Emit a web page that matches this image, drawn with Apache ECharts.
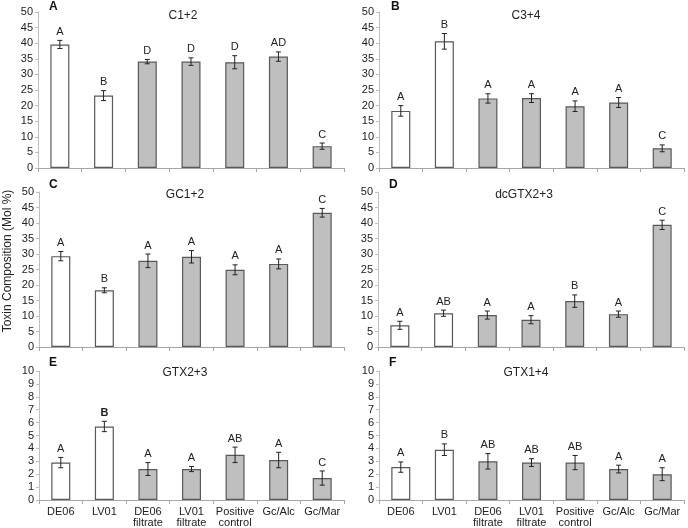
<!DOCTYPE html>
<html>
<head>
<meta charset="utf-8">
<script src="https://cdn.jsdelivr.net/npm/echarts@6/dist/echarts.min.js"></script>
<style>html,body{margin:0;padding:0;background:#fff;}#main{width:688px;height:528px;}</style>
</head>
<body>
<div id="main"></div>
<script>
const categories = ['DE06', 'LV01', 'DE06\nfiltrate', 'LV01\nfiltrate', 'Positive\ncontrol', 'Gc/Alc', 'Gc/Mar'];
const panelLetters = ['A', 'B', 'C', 'D', 'E', 'F'];
const panelTitles = ['C1+2', 'C3+4', 'GC1+2', 'dcGTX2+3', 'GTX2+3', 'GTX1+4'];

const c12Values = [39.6, 23.2, 34.1, 34.1, 33.9, 35.7, 7.0];
const c12Errors = [1.3, 1.6, 0.7, 1.2, 2.1, 1.5, 1.0];
const c12Letters = ['A', 'B', 'D', 'D', 'D', 'AD', 'C'];

const c34Values = [18.3, 40.6, 22.3, 22.4, 19.8, 21.0, 6.3];
const c34Errors = [1.7, 2.5, 1.5, 1.4, 1.7, 1.6, 1.1];
const c34Letters = ['A', 'B', 'A', 'A', 'A', 'A', 'C'];

const gc12Values = [29.3, 18.3, 27.8, 29.1, 24.9, 26.8, 43.3];
const gc12Errors = [1.5, 0.8, 2.2, 2.0, 1.6, 1.6, 1.4];
const gc12Letters = ['A', 'B', 'A', 'A', 'A', 'A', 'C'];

const dcgtx23Values = [7.0, 10.9, 10.3, 8.8, 14.8, 10.6, 39.4];
const dcgtx23Errors = [1.3, 1.0, 1.3, 1.3, 2.0, 1.0, 1.5];
const dcgtx23Letters = ['A', 'AB', 'A', 'A', 'B', 'A', 'C'];

const gtx23Values = [2.9, 5.7, 2.4, 2.4, 3.5, 3.1, 1.7];
const gtx23Errors = [0.4, 0.4, 0.5, 0.2, 0.6, 0.6, 0.55];
const gtx23Letters = ['A', 'B', 'A', 'A', 'AB', 'A', 'C'];

const gtx14Values = [2.55, 3.9, 3.0, 2.9, 2.9, 2.4, 2.0];
const gtx14Errors = [0.4, 0.45, 0.6, 0.3, 0.55, 0.3, 0.5];
const gtx14Letters = ['A', 'B', 'AB', 'AB', 'AB', 'A', 'A'];

const yMaxes = [50, 50, 50, 50, 10, 10];
const yIntervals = [5, 5, 5, 5, 1, 1];

const panels = [
  {v: c12Values, e: c12Errors, l: c12Letters},
  {v: c34Values, e: c34Errors, l: c34Letters},
  {v: gc12Values, e: gc12Errors, l: gc12Letters},
  {v: dcgtx23Values, e: dcgtx23Errors, l: dcgtx23Letters},
  {v: gtx23Values, e: gtx23Errors, l: gtx23Letters},
  {v: gtx14Values, e: gtx14Errors, l: gtx14Letters}
];

const FONT = 'Liberation Sans, Arial, sans-serif';
const grids = [
  {left: 38, top: 12, width: 306, height: 156},
  {left: 379, top: 12, width: 305, height: 156},
  {left: 39, top: 192, width: 305, height: 155},
  {left: 378, top: 192, width: 306, height: 155},
  {left: 39, top: 371, width: 305, height: 132},
  {left: 379, top: 371, width: 305, height: 132}
];
const letterPos = [[49, 1], [391, 1], [49, 179], [389, 179], [49, 357], [389, 357]];
const titlePos = [[183, 10], [526, 10], [185, 189], [524, 189], [185, 367], [526, 367]];

const xAxes = [], yAxes = [], series = [], titles = [];
panels.forEach((p, i) => {
  const showLabels = i >= 4;
  xAxes.push({
    type: 'category', gridIndex: i, data: categories,
    axisLine: {lineStyle: {color: '#a6a6a6', width: 1}},
    axisTick: {show: true, length: 4, lineStyle: {color: '#a6a6a6'}},
    axisLabel: {show: showLabels, interval: 0, fontSize: 11, lineHeight: 11, color: '#222', fontFamily: FONT, margin: 6},
    splitLine: {show: false}
  });
  yAxes.push({
    type: 'value', gridIndex: i, min: 0, max: yMaxes[i], interval: yIntervals[i],
    axisLine: {show: true, lineStyle: {color: '#bfbfbf'}},
    axisTick: {show: true, length: 3, lineStyle: {color: '#bfbfbf'}},
    axisLabel: {fontSize: 11, color: '#222', fontFamily: FONT, margin: 5},
    splitLine: {show: false}
  });
  series.push({
    type: 'bar', xAxisIndex: i, yAxisIndex: i, barWidth: 19,
    data: p.v.map((val, j) => ({
      value: val,
      itemStyle: {color: j < 2 ? '#ffffff' : '#bfbfbf', borderColor: '#595959', borderWidth: 1.2}
    })),
    animation: false
  });
  const letters = p.l;
  const boldIdx = i === 4 ? 1 : -1;
  series.push({
    type: 'custom', xAxisIndex: i, yAxisIndex: i,
    data: p.v.map((val, j) => [j, val, p.e[j]]),
    renderItem: function (params, api) {
      const x = api.value(0), v = api.value(1), e = api.value(2);
      const top = api.coord([x, v + e]);
      const bot = api.coord([x, v - e]);
      const hw = 2.5;
      const ls = {stroke: '#222', lineWidth: 1};
      const j = params.dataIndex;
      return {
        type: 'group',
        children: [
          {type: 'line', shape: {x1: top[0], y1: top[1], x2: bot[0], y2: bot[1]}, style: ls},
          {type: 'line', shape: {x1: top[0] - hw, y1: top[1], x2: top[0] + hw, y2: top[1]}, style: ls},
          {type: 'line', shape: {x1: bot[0] - hw, y1: bot[1], x2: bot[0] + hw, y2: bot[1]}, style: ls},
          {type: 'text', style: {
            text: letters[j], x: top[0], y: top[1] - 3,
            textAlign: 'center', textVerticalAlign: 'bottom',
            fill: '#222', font: (j === boldIdx ? 'bold ' : '') + '11px ' + FONT
          }}
        ]
      };
    },
    animation: false,
    z: 5
  });
  titles.push({
    text: panelLetters[i], left: letterPos[i][0], top: letterPos[i][1],
    textStyle: {fontSize: 12, fontWeight: 'bold', color: '#111', fontFamily: FONT}, padding: 0
  });
  titles.push({
    text: panelTitles[i], left: titlePos[i][0], top: titlePos[i][1], textAlign: 'center',
    textStyle: {fontSize: 12, fontWeight: 'normal', color: '#222', fontFamily: FONT}, padding: 0
  });
});

const chart = echarts.init(document.getElementById('main'), null, {renderer: 'canvas'});
chart.setOption({
  backgroundColor: '#fff',
  animation: false,
  title: titles,
  grid: grids,
  xAxis: xAxes,
  yAxis: yAxes,
  series: series,
  graphic: [{
    type: 'text', x: 8, y: 261, rotation: Math.PI / 2,
    style: {text: 'Toxin Composition (Mol %)', textAlign: 'center', textVerticalAlign: 'middle', fill: '#222', font: '12px ' + FONT}
  }]
});
</script>
</body>
</html>
